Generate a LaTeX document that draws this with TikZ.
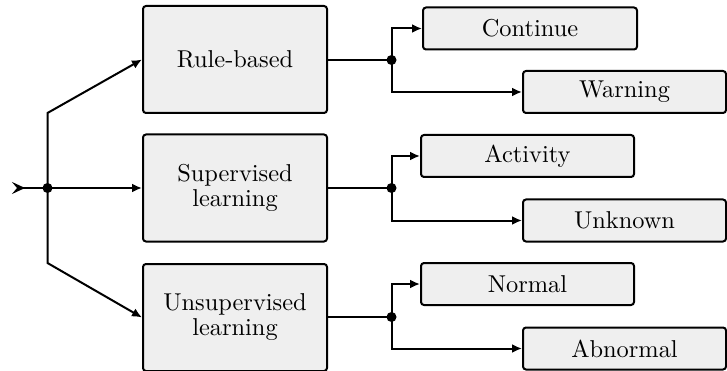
\documentclass[tikz,border=0pt]{standalone}
\usepackage{fontspec}
\setmainfont{lmroman10-regular.otf}
\usetikzlibrary{arrows.meta}
\definecolor{boxfill}{HTML}{EFEFEF}
\begin{document}
\begin{tikzpicture}[x=1pt,y=-1pt,
  line width=2pt,
  textfont/.style={font=\fontsize{24.4}{25}\selectfont},
  method/.style={draw, fill=boxfill, rounded corners=3pt, textfont, align=center,
    minimum width=184pt, minimum height=107pt, inner sep=0pt},
  outcome/.style={draw, fill=boxfill, rounded corners=3pt, textfont,
    minimum height=42pt, inner sep=0pt},
  junction/.style={circle, fill=black, inner sep=0pt, minimum size=10pt},
  arr/.style={-{Latex[length=10pt,width=9pt]}}
]
\useasboundingbox (0,0) rectangle (727,371);

% classification methods
\node[method] (rb) at (235,59.5) {Rule-based};
\node[method] (sl) at (235,188) {Supervised\\learning};
\node[method] (ul) at (235,317.5) {Unsupervised\\learning};

% outcomes
\node[outcome, minimum width=214pt] (cont) at (530,28.5) {Continue};
\node[outcome, minimum width=203pt] (warn) at (624.5,92) {Warning};
\node[outcome, minimum width=213pt] (act) at (527.5,156) {Activity};
\node[outcome, minimum width=203pt] (unk) at (624.5,220.5) {Unknown};
\node[outcome, minimum width=213pt] (norm) at (527.5,284) {Normal};
\node[outcome, minimum width=203pt] (abn) at (624.5,348.5) {Abnormal};

% input branching
\coordinate (in) at (12,188);
\node[junction] (split) at (47.5,188) {};
\coordinate (up) at (47.5,113);
\coordinate (down) at (47.5,263);
\draw[{Stealth[length=13pt,width=12pt,inset=5pt,reversed]}-] (in) -- (split.center);
\draw[arr] (split.center) -- (up) -- (rb.west);
\draw[arr] (split.center) -- (sl.west);
\draw[arr] (split.center) -- (down) -- (ul.west);

% output branching
\node[junction] (j1) at (391.5,60) {};
\node[junction] (j2) at (391.5,188) {};
\node[junction] (j3) at (391.5,317) {};
\draw (rb.east |- j1) -- (j1.center);
\draw (sl.east) -- (j2.center);
\draw (ul.east |- j3) -- (j3.center);
\draw[arr] (j1.center) |- (cont.west);
\draw[arr] (j1.center) |- (warn.west);
\draw[arr] (j2.center) |- (act.west);
\draw[arr] (j2.center) |- (unk.west);
\draw[arr] (j3.center) |- (norm.west);
\draw[arr] (j3.center) |- (abn.west);
\end{tikzpicture}
\end{document}
